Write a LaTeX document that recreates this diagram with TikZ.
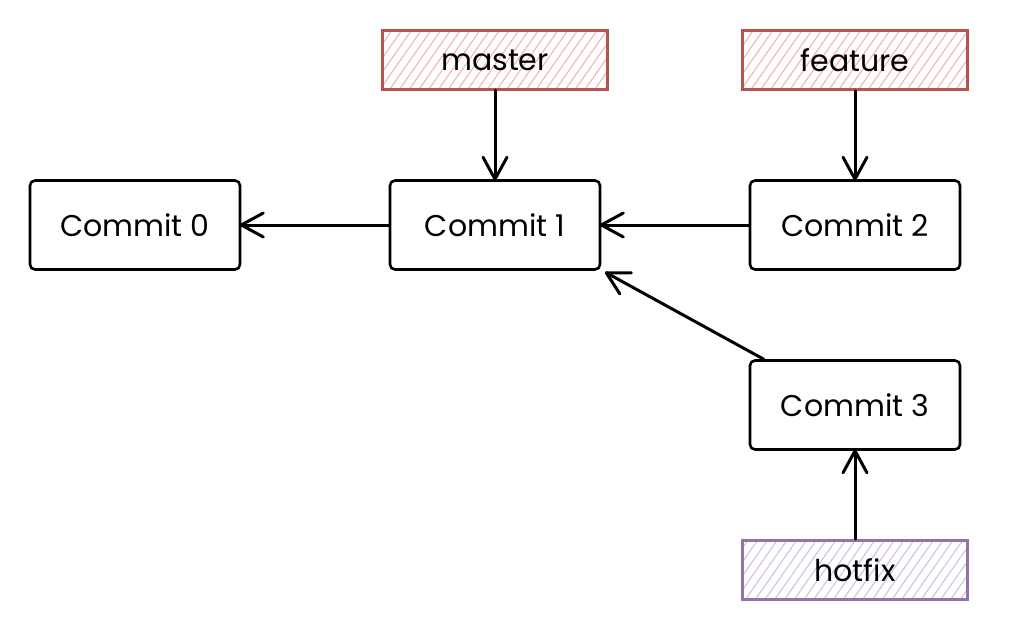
\documentclass[tikz,border=0pt]{standalone}
\usepackage{fontspec}
\setmainfont{Poppins}
\usetikzlibrary{patterns.meta,decorations.markings}
\definecolor{redstroke}{HTML}{B85450}
\definecolor{redfill}{HTML}{F4B3B1}
\definecolor{purstroke}{HTML}{9673A6}
\definecolor{purfill}{HTML}{D3C1DC}
\tikzset{
  commit/.style={draw=black, line width=2.6pt, rounded corners=5pt, minimum width=210pt, minimum height=89pt, inner sep=0pt, font=\fontsize{30}{34}\selectfont},
  branch/.style={line width=2.6pt, minimum width=225pt, minimum height=59pt, inner sep=0pt, font=\fontsize{30}{34}\selectfont},
  redbr/.style={branch, draw=redstroke, pattern={Lines[angle=55,distance=8pt,line width=1.1pt]}, pattern color=redfill},
  purbr/.style={branch, draw=purstroke, pattern={Lines[angle=55,distance=8pt,line width=1.1pt]}, pattern color=purfill},
  conn/.style={draw=black, line width=3pt, line cap=round, postaction={decorate},
    decoration={markings, mark=at position 1 with {\draw[black, line width=3pt, line cap=round, line join=round] (-22pt,12pt) -- (0pt,0pt) -- (-22pt,-12pt);}}}
}
\begin{document}
\begin{tikzpicture}[x=1pt,y=-1pt]
\useasboundingbox (0,0) rectangle (1022,632);
\node[redbr] (master) at (495,60) {master};
\node[redbr] (feature) at (855,60) {feature};
\node[commit] (c0) at (135,225) {Commit 0};
\node[commit] (c1) at (495,225) {Commit 1};
\node[commit] (c2) at (855,225) {Commit 2};
\node[commit] (c3) at (855,405) {Commit 3};
\node[purbr] (hotfix) at (855,570) {hotfix};
\coordinate (c3corner) at ([xshift=15pt]c3.north west);
\coordinate (c1corner) at ([xshift=5pt,yshift=-2pt]c1.south east);
\draw[conn] (master) -- (c1);
\draw[conn] (feature) -- (c2);
\draw[conn] (c1) -- (c0);
\draw[conn] (c2) -- (c1);
\draw[conn] (c3corner) -- (c1corner);
\draw[conn] (hotfix) -- (c3);
\end{tikzpicture}
\end{document}
